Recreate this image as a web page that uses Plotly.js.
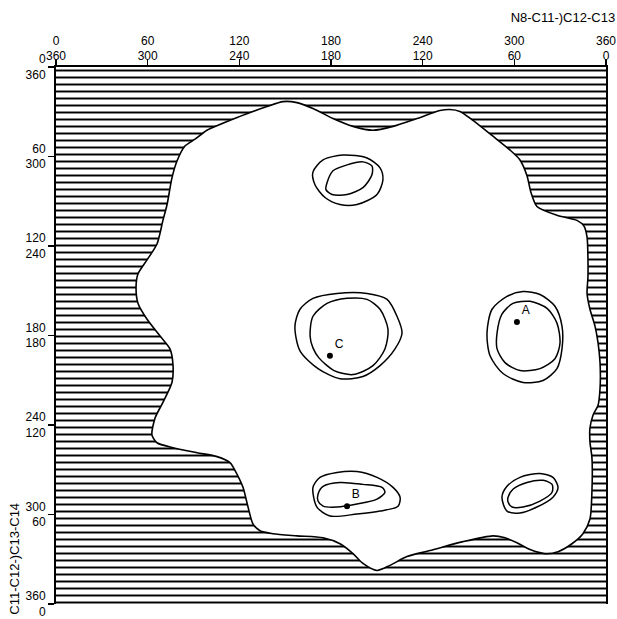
<!DOCTYPE html>
<html><head><meta charset="utf-8">
<script src="https://cdn.plot.ly/plotly-3.0.1.min.js"></script>
<style>html,body{margin:0;padding:0;background:#fff;}#plot{width:617px;height:619px;}</style>
</head><body><div id="plot"></div>
<script>
// axis ticks (first and second scale)
const tickVals = [0, 60, 120, 180, 240, 300, 360];
const xTickText = ['0<br>360','60<br>300','120<br>240','180<br>180','240<br>120','300<br>60','360<br>0'];
const yTickText = ['0<br>360','60<br>300','120<br>240','180<br>180','240<br>120','300<br>60','360<br>0'];

// allowed (white) region boundary
const blobX = [148.6,157.7,168.2,181.3,194.4,207.5,220.6,236.3,251.3,257.9,264.4,272.9,286.0,297.2,303.7,308.3,310.9,314.8,327.9,341.0,345.6,347.6,348.2,348.2,347.6,349.5,352.8,354.8,356.1,356.1,354.8,351.5,349.5,349.5,350.8,350.8,349.5,344.9,337.7,328.6,320.1,310.3,301.7,293.9,286.0,266.4,244.8,229.7,218.6,210.1,200.9,194.4,185.9,174.8,157.7,142.0,133.5,128.9,125.7,122.4,118.5,113.9,105.4,92.3,76.6,66.1,62.8,64.8,70.0,75.9,76.6,74.6,68.1,59.6,53.7,52.4,53.7,59.6,66.1,70.0,72.7,75.9,79.2,84.4,91.0,98.8,120.4,138.1,148.6];
const blobY = [23.2,23.9,27.8,34.5,39.8,42.4,39.8,34.5,29.2,28.5,29.8,35.8,46.4,55.7,62.3,72.9,84.2,93.5,99.4,102.8,106.7,114.0,129.3,140.6,151.8,162.4,173.7,185.0,198.2,215.5,226.7,233.4,242.0,251.3,261.9,284.4,303.0,312.9,319.6,324.9,326.2,323.5,318.9,315.6,314.3,318.2,324.2,328.2,334.1,337.5,332.8,326.2,319.6,315.6,314.3,312.9,310.9,306.3,295.0,281.8,273.1,265.2,261.2,258.6,255.2,251.9,246.6,235.4,224.8,211.5,200.2,189.0,180.3,169.1,158.5,147.2,138.6,129.3,118.7,102.8,92.2,74.3,63.0,53.0,48.4,42.4,33.1,26.5,23.2];

// energy contours
const topOuterX = [168.2,174.8,187.9,203.6,212.1,214.0,210.1,197.0,185.9,176.1,169.5,168.2];
const topOuterY = [70.3,62.3,59.0,61.0,67.6,75.6,85.5,92.2,92.2,87.5,78.9,70.3];
const topInnerX = [177.4,181.3,190.5,200.9,206.8,206.8,200.9,190.5,180.7,176.7,177.4];
const topInnerY = [77.6,69.6,65.6,63.6,66.3,72.3,80.9,85.5,85.5,82.2,77.6];
const cOuterX = [156.4,159.7,168.2,183.9,203.6,216.7,223.2,226.5,221.9,212.1,200.9,185.9,171.5,159.7,156.4];
const cOuterY = [173.7,162.4,155.1,151.8,151.8,155.8,167.1,178.3,189.0,200.2,207.5,209.0,202.2,190.3,173.7];
const cInnerX = [166.3,168.2,177.4,190.5,203.6,212.1,217.3,215.3,207.5,194.4,182.0,172.1,168.2,166.3];
const cInnerY = [180.3,167.1,158.5,155.1,155.8,162.4,175.7,189.0,200.2,206.2,203.5,195.0,188.3,180.3];
const aOuterX = [282.1,285.4,295.2,305.7,316.8,326.6,331.2,331.2,327.9,318.8,305.7,292.6,284.1,282.1];
const aOuterY = [178.3,162.4,153.8,150.5,152.5,160.4,173.7,189.0,202.2,210.2,211.5,205.5,193.6,178.3];
const aInnerX = [288.7,291.9,299.1,310.3,321.4,327.9,329.9,326.6,316.8,303.7,293.9,288.7,288.7];
const aInnerY = [178.3,165.7,158.5,157.1,161.8,171.7,185.0,195.6,202.2,203.5,198.2,189.0,178.3];
const bOuterX = [168.2,172.8,183.9,197.0,210.1,220.6,225.2,223.9,212.1,197.0,179.3,170.8,168.2];
const bOuterY = [281.8,275.1,271.8,271.2,275.1,281.8,288.4,294.4,297.7,299.7,301.0,295.0,281.8];
const bInnerX = [171.5,174.8,185.9,200.9,213.4,215.3,210.1,197.0,183.9,174.8,171.5,171.5];
const bInnerY = [286.4,281.1,278.5,279.8,281.8,285.1,289.7,293.0,295.0,294.4,291.0,286.4];
const dOuterX = [291.9,295.2,303.7,316.8,325.3,328.6,325.3,314.8,303.7,295.2,291.9];
const dOuterY = [288.4,281.1,275.1,272.5,275.1,281.8,288.4,295.0,299.0,297.7,288.4];
const dInnerX = [295.9,299.1,308.3,318.8,324.7,324.7,316.8,305.7,298.5,295.9,295.9];
const dInnerY = [288.4,283.1,278.5,277.1,279.8,285.1,291.0,295.0,295.0,291.7,288.4];

// labelled conformations
const ptLabels = ['A','B','C'];
const ptX = [301.7, 190.5, 179.3];
const ptY = [171.0, 294.4, 193.6];

// full map frame (hatched = forbidden)
const frameX = [0, 360, 360, 0, 0];
const frameY = [0, 0, 360, 360, 0];

const FONT = 'Liberation Sans, Arial, sans-serif';
const contourLine = {color:'#000', width:1.5, shape:'spline', smoothing:0.8};
function contour(x, y){ return {x:x, y:y, mode:'lines', line:contourLine, hoverinfo:'skip', showlegend:false}; }

const traces = [
  {x:frameX, y:frameY, mode:'lines', fill:'toself', fillcolor:'#fff', line:{width:0},
   fillpattern:{shape:'-', size:7, solidity:0.28, fgcolor:'#000', bgcolor:'#fff'}, hoverinfo:'skip', showlegend:false},
  {x:blobX, y:blobY, mode:'lines', fill:'toself', fillcolor:'#fff',
   line:{color:'#000', width:1.6, shape:'spline', smoothing:0.7}, hoverinfo:'skip', showlegend:false},
  contour(topOuterX, topOuterY), contour(topInnerX, topInnerY),
  contour(cOuterX, cOuterY), contour(cInnerX, cInnerY),
  contour(aOuterX, aOuterY), contour(aInnerX, aInnerY),
  contour(bOuterX, bOuterY), contour(bInnerX, bInnerY),
  contour(dOuterX, dOuterY), contour(dInnerX, dInnerY),
  {x:ptX, y:ptY, text:ptLabels, mode:'markers+text', textposition:'top right',
   marker:{color:'#000', size:6}, textfont:{family:FONT, size:12, color:'#000'}, hoverinfo:'skip', showlegend:false}
];

const axisCommon = {
  range:[0,360], tickvals:tickVals, ticks:'outside', ticklen:6, tickwidth:1.5, tickcolor:'#000',
  showgrid:false, zeroline:false, showline:true, linewidth:2, linecolor:'#000',
  tickfont:{family:FONT, size:12, color:'#000'}, fixedrange:true, ticklabeloverflow:'allow'
};

const layout = {
  width:617, height:619,
  margin:{l:56, r:11, t:67, b:15, pad:0},
  paper_bgcolor:'#fff', plot_bgcolor:'#fff',
  showlegend:false,
  title:{text:'N8-C11-)C12-C13', font:{family:FONT, size:13, color:'#000'},
         x:0.997, xref:'container', xanchor:'right', y:0.972, yref:'container', yanchor:'middle'},
  xaxis:Object.assign({}, axisCommon, {side:'top', ticktext:xTickText, ticklabelstandoff:-6}),
  yaxis:Object.assign({}, axisCommon, {range:[360,0], ticktext:yTickText, mirror:true}),
  annotations:[{text:'C11-C12-)C13-C14', textangle:-90, xref:'paper', yref:'paper',
    x:-0.075, y:0.084, xanchor:'center', yanchor:'middle', showarrow:false,
    font:{family:FONT, size:13, color:'#000'}}]
};

Plotly.newPlot('plot', traces, layout, {staticPlot:true, displayModeBar:false});
</script>
</body></html>
